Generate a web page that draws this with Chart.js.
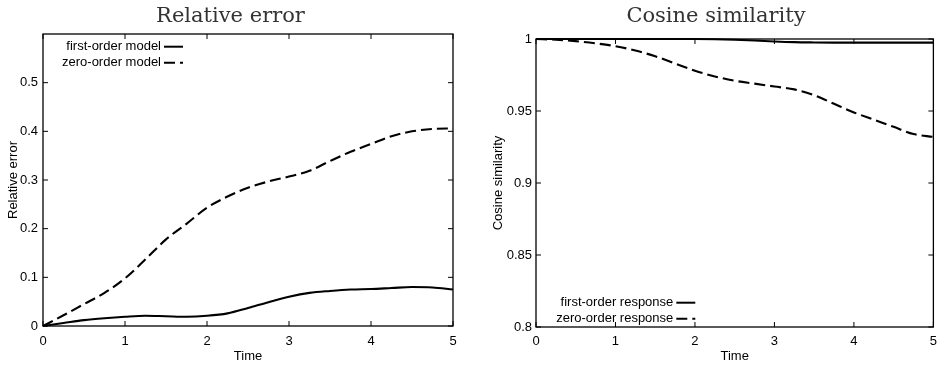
<!DOCTYPE html>
<html>
<head>
<meta charset="utf-8">
<script src="https://cdn.jsdelivr.net/npm/chart.js@4.4.1/dist/chart.umd.min.js"></script>
<style>
  body { margin: 0; background: #fff; }
  #wrap { position: relative; width: 944px; height: 367px; }
  .panel { position: absolute; top: 0; width: 472px; height: 367px; }
</style>
</head>
<body>
<div id="wrap">
  <div class="panel" style="left:0"><canvas id="relErr"></canvas></div>
  <div class="panel" style="left:472px"><canvas id="cosSim"></canvas></div>
</div>
<script>
// time samples (shared by both panels)
const time = [0, 0.25, 0.5, 0.75, 1, 1.25, 1.5, 1.75, 2, 2.25, 2.5, 2.75, 3, 3.25, 3.5, 3.75, 4, 4.25, 4.5, 4.75, 5];

// relative error
const errFirst = [0, 0.006, 0.012, 0.016, 0.019, 0.021, 0.020, 0.019, 0.021, 0.026, 0.037, 0.049, 0.060, 0.068, 0.072, 0.075, 0.076, 0.078, 0.080, 0.079, 0.075];
const errZero = [0, 0.022, 0.045, 0.068, 0.098, 0.137, 0.178, 0.210, 0.243, 0.266, 0.284, 0.297, 0.307, 0.319, 0.339, 0.358, 0.374, 0.390, 0.400, 0.405, 0.406];

// cosine similarity
const cosFirst = [1, 1, 1, 1, 1, 1, 1, 1, 0.99995, 0.9998, 0.9995, 0.999, 0.9983, 0.9978, 0.9976, 0.9975, 0.9975, 0.9975, 0.9975, 0.9975, 0.9975];
const cosZero = [1, 0.9995, 0.9985, 0.997, 0.995, 0.992, 0.988, 0.983, 0.978, 0.974, 0.971, 0.969, 0.967, 0.965, 0.961, 0.955, 0.949, 0.944, 0.939, 0.934, 0.932];

// tick labels
const xTicks = [0, 1, 2, 3, 4, 5];
const errTicks = [0, 0.1, 0.2, 0.3, 0.4, 0.5];
const cosTicks = [0.8, 0.85, 0.9, 0.95, 1];

const sans = "'Liberation Sans', Arial, sans-serif";

function pts(ys) {
  return time.map((t, i) => ({ x: t, y: ys[i] }));
}

// gnuplot style frame with inward ticks
const framePlugin = {
  id: 'frame',
  afterDatasetsDraw(chart) {
    const { ctx, chartArea: a, scales } = chart;
    ctx.save();
    ctx.strokeStyle = '#000';
    ctx.lineWidth = 1.3;
    ctx.strokeRect(a.left, a.top, a.right - a.left, a.bottom - a.top);
    ctx.lineWidth = 1;
    ctx.beginPath();
    scales.x.ticks.forEach(t => {
      const px = scales.x.getPixelForValue(t.value);
      ctx.moveTo(px, a.bottom); ctx.lineTo(px, a.bottom - 5);
      ctx.moveTo(px, a.top); ctx.lineTo(px, a.top + 5);
    });
    scales.y.ticks.forEach(t => {
      const py = scales.y.getPixelForValue(t.value);
      ctx.moveTo(a.left, py); ctx.lineTo(a.left + 5, py);
      ctx.moveTo(a.right, py); ctx.lineTo(a.right - 5, py);
    });
    ctx.stroke();
    ctx.restore();
  }
};

// legend drawn inside the plot, text right-aligned with sample line on its right
const keyPlugin = {
  id: 'key',
  afterDatasetsDraw(chart, args, opts) {
    const { ctx, chartArea: a } = chart;
    ctx.save();
    ctx.font = '13px ' + sans;
    ctx.textAlign = 'right';
    ctx.textBaseline = 'middle';
    ctx.fillStyle = '#000';
    chart.data.datasets.forEach((ds, i) => {
      const y = (opts.fromBottom ? a.bottom - opts.y : a.top + opts.y) + i * 16;
      const x = a.left + opts.x;
      ctx.fillText(ds.label, x, y);
      ctx.strokeStyle = '#000';
      ctx.lineWidth = 2;
      ctx.setLineDash(ds.borderDash || []);
      ctx.beginPath();
      ctx.moveTo(x + 3, y);
      ctx.lineTo(x + 22, y);
      ctx.stroke();
    });
    ctx.restore();
  }
};

function makeChart(id, cfg) {
  new Chart(id, {
    type: 'line',
    data: {
      datasets: [
        { label: cfg.labels[0], data: pts(cfg.first), borderColor: '#000', borderWidth: 2.1,
          pointRadius: 0, cubicInterpolationMode: 'monotone', clip: 3 },
        { label: cfg.labels[1], data: pts(cfg.zero), borderColor: '#000', borderWidth: 2.1,
          borderDash: [11, 5], pointRadius: 0, cubicInterpolationMode: 'monotone', clip: 3 }
      ]
    },
    plugins: [framePlugin, keyPlugin],
    options: {
      responsive: true,
      maintainAspectRatio: false,
      animation: false,
      layout: { padding: { left: cfg.padLeft, right: cfg.padRight, top: 0, bottom: 0 } },
      plugins: {
        legend: { display: false },
        tooltip: { enabled: false },
        title: {
          display: true,
          text: cfg.title,
          color: '#333',
          font: { family: "'DejaVu Serif', serif", size: 21, weight: 'normal' },
          padding: { top: 4, bottom: cfg.titleGap }
        },
        key: cfg.key
      },
      scales: {
        x: {
          type: 'linear',
          min: 0, max: 5,
          grid: { display: false, drawTicks: false },
          border: { display: false },
          afterBuildTicks: s => { s.ticks = xTicks.map(v => ({ value: v })); },
          afterFit: s => { s.height = cfg.xHeight; },
          ticks: { color: '#000', font: { family: sans, size: 13 }, padding: cfg.xPad, maxRotation: 0 },
          title: { display: true, text: 'Time', color: '#000', font: { family: sans, size: 13 },
                   padding: { top: 0, bottom: 2.5 } }
        },
        y: {
          min: cfg.yMin, max: cfg.yMax,
          grid: { display: false, drawTicks: false },
          border: { display: false },
          afterBuildTicks: s => { s.ticks = cfg.yTicks.map(v => ({ value: v })); },
          afterFit: s => { s.width = cfg.yWidth; },
          ticks: { color: '#000', font: { family: sans, size: 13 }, padding: cfg.yPad,
                   callback: v => String(Number(v.toFixed(2))) },
          title: { display: true, text: cfg.yTitle, color: '#000', font: { family: sans, size: 13 },
                   padding: { top: cfg.yTitlePad, bottom: 0 } }
        }
      }
    }
  });
}

makeChart('relErr', {
  title: 'Relative error',
  yTitle: 'Relative error',
  labels: ['first-order model', 'zero-order model'],
  first: errFirst, zero: errZero,
  yMin: 0, yMax: 0.6, yTicks: errTicks,
  padLeft: 8, padRight: 19, yWidth: 35, xHeight: 41, titleGap: 4.8,
  xPad: 8, yPad: 5, yTitlePad: -2.5,
  key: { x: 118, y: 12.7, fromBottom: false }
});

makeChart('cosSim', {
  title: 'Cosine similarity',
  yTitle: 'Cosine similarity',
  labels: ['first-order response', 'zero-order response'],
  first: cosFirst, zero: cosZero,
  yMin: 0.8, yMax: 1, yTicks: cosTicks,
  padLeft: 21, padRight: 5, yWidth: 43, xHeight: 40, titleGap: 9.8,
  xPad: 7, yPad: 4, yTitlePad: -2.1,
  key: { x: 137.3, y: 24.3, fromBottom: true }
});
</script>
</body>
</html>
